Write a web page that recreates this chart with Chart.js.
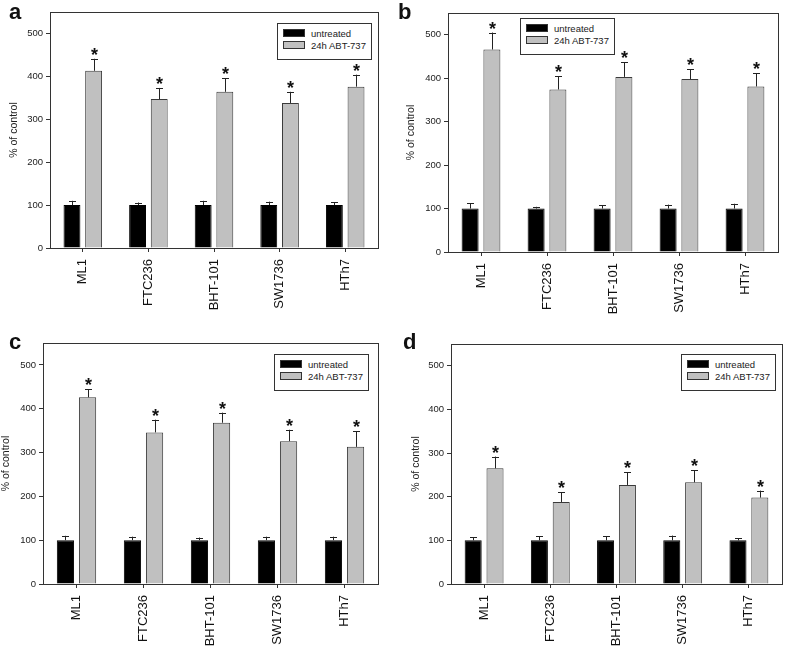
<!DOCTYPE html>
<html>
<head>
<meta charset="utf-8">
<script src="https://cdn.jsdelivr.net/npm/chart.js@4.4.1/dist/chart.umd.min.js"></script>
<style>
  body { margin: 0; background: #fff; font-family: "Liberation Sans", Arial, sans-serif; }
  #page { position: relative; width: 785px; height: 647px; overflow: hidden; }
  .panel { position: absolute; }
  .panel canvas { display: block; }
  .letter { position: absolute; font-weight: bold; font-size: 22px; color: #111; line-height: 1; }
  .legend { position: absolute; border: 1px solid #333; background: #fff; font-size: 9.5px; color: #222; box-sizing: border-box; padding: 4px 0 0 5px; }
  .legend div { height: 12px; line-height: 12px; white-space: nowrap; }
  .legend span { display: inline-block; width: 20px; height: 6px; border: 1px solid #333; vertical-align: middle; margin-right: 6px; position: relative; top: -1px; }
</style>
</head>
<body>
<div id="page"></div>
<script>
// categories and values
const cells = ['ML1', 'FTC236', 'BHT-101', 'SW1736', 'HTh7'];
const yTicks = [0, 100, 200, 300, 400, 500];
const seriesNames = ['untreated', '24h ABT-737'];

const untreatedA = [100, 100, 100, 100, 100];
const untreatedErrA = [10, 6, 10, 8, 7];
const treatedA = [413, 347, 364, 338, 376];
const treatedErrA = [28, 26, 32, 26, 28];

const untreatedB = [100, 100, 100, 100, 100];
const untreatedErrB = [12, 4, 8, 9, 11];
const treatedB = [466, 374, 403, 398, 381];
const treatedErrB = [39, 30, 34, 22, 30];

const untreatedC = [100, 100, 100, 100, 100];
const untreatedErrC = [10, 8, 6, 8, 8];
const treatedC = [426, 346, 368, 326, 313];
const treatedErrC = [18, 29, 23, 26, 36];

const untreatedD = [100, 100, 100, 100, 100];
const untreatedErrD = [7, 9, 9, 11, 5];
const treatedD = [265, 188, 227, 233, 198];
const treatedErrD = [27, 22, 29, 28, 16];

// significance marks (all treated bars starred)
const starred = [true, true, true, true, true];

const FONT = '"Liberation Sans", Arial, sans-serif';

// error bars, asterisks and the full frame round the plot
const extras = {
    id: 'extras',
    afterDatasetsDraw(chart) {
        const ctx = chart.ctx;
        const y = chart.scales.y;
        const a = chart.chartArea;
        ctx.save();
        chart.data.datasets.forEach((ds, i) => {
            const meta = chart.getDatasetMeta(i);
            meta.data.forEach((bar, j) => {
                const top = y.getPixelForValue(ds.data[j] + ds.err[j]);
                const x = Math.round(bar.x) + 0.5;
                ctx.strokeStyle = '#222';
                ctx.lineWidth = 1;
                ctx.beginPath();
                ctx.moveTo(x, bar.y);
                ctx.lineTo(x, top);
                ctx.moveTo(x - 3.5, Math.round(top) + 0.5);
                ctx.lineTo(x + 3.5, Math.round(top) + 0.5);
                ctx.stroke();
                if (ds.stars && ds.stars[j]) {
                    ctx.fillStyle = '#111';
                    ctx.font = 'bold 18px ' + FONT;
                    ctx.textAlign = 'center';
                    ctx.textBaseline = 'alphabetic';
                    ctx.fillText('*', x, top + 2);
                }
            });
        });
        ctx.strokeStyle = '#333';
        ctx.lineWidth = 1;
        ctx.strokeRect(Math.round(a.left) + 0.5, Math.round(a.top) + 0.5,
            Math.round(a.right - a.left), Math.round(a.bottom - a.top));
        ctx.restore();
    }
};

function makePanel(p) {
    const page = document.getElementById('page');
    const box = document.createElement('div');
    box.className = 'panel';
    box.style.left = p.left + 'px';
    box.style.top = p.top + 'px';
    box.style.width = p.width + 'px';
    box.style.height = p.height + 'px';
    const canvas = document.createElement('canvas');
    canvas.width = p.width;
    canvas.height = p.height;
    box.appendChild(canvas);
    page.appendChild(box);

    const letter = document.createElement('div');
    letter.className = 'letter';
    letter.textContent = p.letter;
    letter.style.left = p.letterX + 'px';
    letter.style.top = p.letterY + 'px';
    page.appendChild(letter);

    const leg = document.createElement('div');
    leg.className = 'legend';
    leg.style.left = p.legend[0] + 'px';
    leg.style.top = p.legend[1] + 'px';
    leg.style.width = '95px';
    leg.style.height = '37px';
    leg.innerHTML =
        '<div><span style="background:#000"></span>' + seriesNames[0] + '</div>' +
        '<div><span style="background:#c0c0c0"></span>' + seriesNames[1] + '</div>';
    page.appendChild(leg);

    new Chart(canvas, {
        type: 'bar',
        data: {
            labels: cells,
            datasets: [{
                label: seriesNames[0],
                data: p.untreated,
                err: p.untreatedErr,
                backgroundColor: '#000',
                borderColor: '#000',
                borderWidth: 1,
                categoryPercentage: 0.66,
                barPercentage: 0.78
            }, {
                label: seriesNames[1],
                data: p.treated,
                err: p.treatedErr,
                stars: starred,
                backgroundColor: '#c0c0c0',
                borderColor: '#3a3a3a',
                borderWidth: 1,
                categoryPercentage: 0.66,
                barPercentage: 0.78
            }]
        },
        options: {
            responsive: false,
            maintainAspectRatio: false,
            animation: false,
            devicePixelRatio: 1,
            layout: { padding: { top: p.padTop, right: p.padRight, left: 0, bottom: 0 } },
            plugins: { legend: { display: false }, tooltip: { enabled: false } },
            scales: {
                x: {
                    grid: { display: true, drawOnChartArea: false, offset: false, tickLength: 4, color: '#333' },
                    border: { display: true, color: '#333' },
                    ticks: {
                        autoSkip: false, minRotation: 90, maxRotation: 90, padding: 7,
                        color: '#111', font: { family: FONT, size: 13 }
                    },
                    afterFit: s => { s.height = p.xHeight; }
                },
                y: {
                    min: 0, max: 550,
                    grid: { display: true, drawOnChartArea: false, tickLength: 4, color: '#333' },
                    border: { display: true, color: '#333' },
                    ticks: { autoSkip: false, padding: 3, color: '#222', font: { family: FONT, size: 9.5 } },
                    afterBuildTicks: s => { s.ticks = yTicks.map(v => ({ value: v })); },
                    title: {
                        display: true, text: '% of control', color: '#222',
                        font: { family: FONT, size: 10.5 },
                        padding: { top: p.titlePad, bottom: 0 }
                    },
                    afterFit: s => { s.width = p.yWidth; }
                }
            }
        },
        plugins: [extras]
    });
}

makePanel({ letter: 'a', letterX: 9, letterY: 1, left: 0, top: 0, width: 392, height: 320,
    yWidth: 50, padTop: 12, padRight: 14, xHeight: 72, titlePad: 8, legend: [277, 23],
    untreated: untreatedA, untreatedErr: untreatedErrA, treated: treatedA, treatedErr: treatedErrA });
makePanel({ letter: 'b', letterX: 398, letterY: 1, left: 392, top: 0, width: 393, height: 320,
    yWidth: 56, padTop: 13, padRight: 7, xHeight: 68, titlePad: 13, legend: [520, 18],
    untreated: untreatedB, untreatedErr: untreatedErrB, treated: treatedB, treatedErr: treatedErrB });
makePanel({ letter: 'c', letterX: 9, letterY: 331, left: 0, top: 320, width: 392, height: 327,
    yWidth: 43, padTop: 23, padRight: 14, xHeight: 63, titlePad: 0, legend: [274, 354],
    untreated: untreatedC, untreatedErr: untreatedErrC, treated: treatedC, treatedErr: treatedErrC });
makePanel({ letter: 'd', letterX: 403, letterY: 331, left: 392, top: 320, width: 393, height: 327,
    yWidth: 59, padTop: 24, padRight: 3, xHeight: 63, titlePad: 18, legend: [681, 354],
    untreated: untreatedD, untreatedErr: untreatedErrD, treated: treatedD, treatedErr: treatedErrD });
</script>
</body>
</html>
